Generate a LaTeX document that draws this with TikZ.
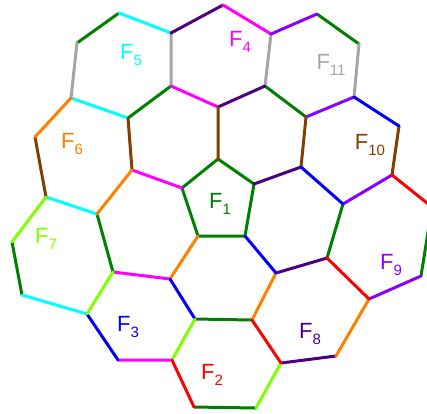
\documentclass[tikz,border=0pt]{standalone}
\usepackage{fontspec}
\setmainfont{Liberation Sans}

\definecolor{edgegreen}{RGB}{0,128,0}
\definecolor{edgecyan}{RGB}{0,255,255}
\definecolor{edgeindigo}{RGB}{75,0,130}
\definecolor{edgemagenta}{RGB}{255,0,255}
\definecolor{edgeviolet}{RGB}{136,0,255}
\definecolor{edgegray}{RGB}{165,165,165}
\definecolor{edgebrown}{RGB}{128,64,0}
\definecolor{edgeorange}{RGB}{255,128,0}
\definecolor{edgeblue}{RGB}{0,0,255}
\definecolor{edgelime}{RGB}{128,255,0}
\definecolor{edgered}{RGB}{255,0,0}

\newcommand{\facesub}[1]{\raisebox{-6pt}{\fontsize{15}{15}\selectfont #1}}

\tikzset{
  facelabel/.style={text=#1, inner sep=0pt, font=\fontsize{22}{22}\selectfont},
  rim/.style={draw=#1, line width=3pt}
}

\begin{document}
\begin{tikzpicture}[x=1pt,y=-1pt,line cap=round,line join=round]
  \useasboundingbox (0,0) rectangle (427,413);
  \clip (0,0) rectangle (427,413);

  % vertices of the net
  \foreach \n/\x/\y in {
      1/119/13, 2/77/43, 3/171/33, 4/71/98, 5/171/86, 6/128/118,
      7/218/107, 8/35/137, 9/132/170, 10/218/159, 11/182/188, 12/46/197,
      13/97/214, 14/223/5, 15/271/34, 16/317/14, 17/359/44, 18/265/86,
      19/354/97, 20/306/117, 21/399/126, 22/301/167, 23/392/175, 24/254/184,
      25/343/204, 26/432/207, 27/12/242, 28/22/295, 29/113/272, 30/87/314,
      31/170/279, 32/198/236, 33/245/236, 34/195/319, 35/118/360, 36/172/360,
      37/194/407, 38/276/273, 39/327/258, 40/252/320, 41/369/299, 42/421/276,
      43/336/356, 44/281/363, 45/256/408}
    \coordinate (v\n) at (\x,\y);

  % edges, one colour at a time
  \draw[rim=edgegreen] (v1) -- (v2) (v5) -- (v6) (v16) -- (v17) (v18) -- (v20)
    (v13) -- (v29) (v27) -- (v28) (v34) -- (v40) (v37) -- (v45)
    (v39) -- (v25) (v42) -- (v26);
  \draw[rim=edgegreen] (v10) -- (v11) -- (v32) -- (v33) -- (v24) -- cycle;
  \draw[rim=edgecyan] (v1) -- (v3) (v4) -- (v6) (v12) -- (v13) (v28) -- (v30);
  \draw[rim=edgegray] (v2) -- (v4) (v3) -- (v5) (v15) -- (v18) (v17) -- (v19);
  \draw[rim=edgeindigo] (v3) -- (v14) (v18) -- (v7) (v22) -- (v24)
    (v38) -- (v39) (v44) -- (v43);
  \draw[rim=edgemagenta] (v5) -- (v7) (v9) -- (v11) (v14) -- (v15)
    (v29) -- (v31) (v35) -- (v36);
  \draw[rim=edgeviolet] (v15) -- (v16) (v19) -- (v20) (v23) -- (v25) (v41) -- (v42);
  \draw[rim=edgebrown] (v6) -- (v9) (v8) -- (v12) (v7) -- (v10) (v20) -- (v22)
    (v21) -- (v23);
  \draw[rim=edgeorange] (v4) -- (v8) (v9) -- (v13) (v31) -- (v32) (v38) -- (v40)
    (v41) -- (v43);
  \draw[rim=edgeblue] (v19) -- (v21) (v22) -- (v25) (v31) -- (v34) (v30) -- (v35)
    (v33) -- (v38);
  \draw[rim=edgelime] (v12) -- (v27) (v29) -- (v30) (v34) -- (v36) (v44) -- (v45);
  \draw[rim=edgered] (v23) -- (v26) (v36) -- (v37) (v39) -- (v41) (v40) -- (v44);

  % face labels
  \node[facelabel=edgegreen] (f1) at (220,204) {F\facesub{1}};
  \node[facelabel=edgered] (f2) at (212,375) {F\facesub{2}};
  \node[facelabel=edgeblue] (f3) at (128,327) {F\facesub{3}};
  \node[facelabel=edgemagenta] (f4) at (240,42) {F\facesub{4}};
  \node[facelabel=edgecyan] (f5) at (131,55) {F\facesub{5}};
  \node[facelabel=edgeorange] (f6) at (72,144) {F\facesub{6}};
  \node[facelabel=edgelime] (f7) at (46,239) {F\facesub{7}};
  \node[facelabel=edgeindigo] (f8) at (310,334) {F\facesub{8}};
  \node[facelabel=edgeviolet] (f9) at (391,265) {F\facesub{9}};
  \node[facelabel=edgebrown] (f10) at (370,145) {F\facesub{10}};
  \node[facelabel=edgegray] (f11) at (331,65) {F\facesub{11}};
\end{tikzpicture}
\end{document}
